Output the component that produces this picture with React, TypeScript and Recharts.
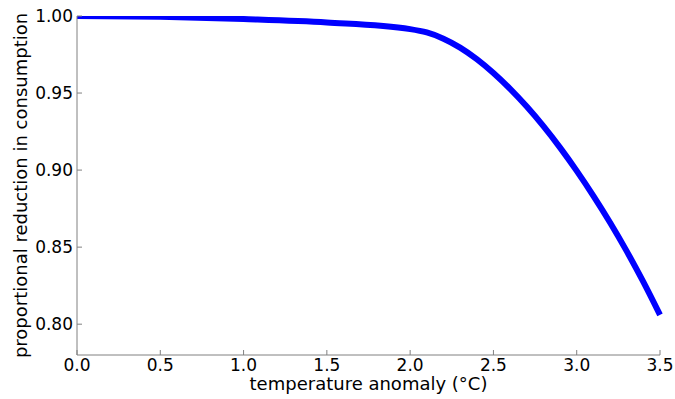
import { LineChart, Line, XAxis, YAxis } from 'recharts'

// temperature anomaly (°C)
const TEMPS = [0, 0.5, 1.0, 1.5, 2.0, 2.1, 2.2, 2.3, 2.4, 2.5, 2.6, 2.7, 2.8, 2.9, 3.0, 3.1, 3.2, 3.3, 3.4, 3.5]
// proportional reduction in consumption
const REDUCTION = [1.0, 0.9995, 0.998, 0.9958, 0.9915, 0.9893, 0.9853, 0.9795, 0.972, 0.963, 0.9527, 0.9412, 0.9285, 0.9146, 0.8995, 0.8833, 0.866, 0.8474, 0.8274, 0.806]

const X_TICKS = [0, 0.5, 1.0, 1.5, 2.0, 2.5, 3.0, 3.5]
const Y_TICKS = [0.8, 0.85, 0.9, 0.95, 1.0]

const FONT = 'DejaVu Sans'
const AXIS_COLOR = '#808080'

const data = TEMPS.map((t, i) => ({ t, v: REDUCTION[i] }))

const tickStyle = { fill: '#000', fontSize: 17, fontFamily: FONT }

export default function App() {
	return (
		<div style={{ position: 'absolute', left: 0, top: 0, width: 675, height: 399, background: '#fff' }}>
			<LineChart width={675} height={399} data={data} margin={{ top: 16, right: 15, bottom: 0, left: 0 }}>
				<XAxis
					dataKey="t"
					type="number"
					domain={[0, 3.5]}
					ticks={X_TICKS}
					tickFormatter={(v: number) => v.toFixed(1)}
					height={44}
					tickSize={-5}
					tickMargin={9}
					interval={0}
					tick={tickStyle}
					axisLine={{ stroke: AXIS_COLOR }}
					tickLine={{ stroke: AXIS_COLOR }}
					label={(props: any) => {
						const vb = props.viewBox
						return (
							<text x={vb.x + vb.width / 2} y={390} textAnchor="middle" fontSize={18} fontFamily={FONT} fill="#000">
								temperature anomaly (°C)
							</text>
						)
					}}
				/>
				<XAxis
					xAxisId="top"
					orientation="top"
					dataKey="t"
					type="number"
					domain={[0, 3.5]}
					ticks={X_TICKS}
					height={0}
					tickSize={-5}
					tick={false}
					axisLine={{ stroke: AXIS_COLOR }}
					tickLine={{ stroke: AXIS_COLOR }}
				/>
				<YAxis
					type="number"
					domain={[0.78, 1.0]}
					ticks={Y_TICKS}
					tickFormatter={(v: number) => v.toFixed(2)}
					width={77}
					tickSize={-5}
					tickMargin={9}
					interval={0}
					allowDataOverflow
					tick={tickStyle}
					axisLine={{ stroke: AXIS_COLOR }}
					tickLine={{ stroke: AXIS_COLOR }}
					label={(props: any) => {
						const vb = props.viewBox
						const cy = vb.y + vb.height / 2
						return (
							<text x={27} y={cy} transform={`rotate(-90, 27, ${cy})`} textAnchor="middle" fontSize={18} fontFamily={FONT} fill="#000">
								proportional reduction in consumption
							</text>
						)
					}}
				/>
				<YAxis
					yAxisId="right"
					orientation="right"
					type="number"
					domain={[0.78, 1.0]}
					ticks={Y_TICKS}
					width={0}
					tickSize={-5}
					tick={false}
					axisLine={{ stroke: AXIS_COLOR }}
					tickLine={{ stroke: AXIS_COLOR }}
				/>
				<Line
					type="monotone"
					dataKey="v"
					stroke="#0000ff"
					strokeWidth={6}
					dot={false}
					activeDot={false}
					isAnimationActive={false}
				/>
			</LineChart>
		</div>
	)
}
